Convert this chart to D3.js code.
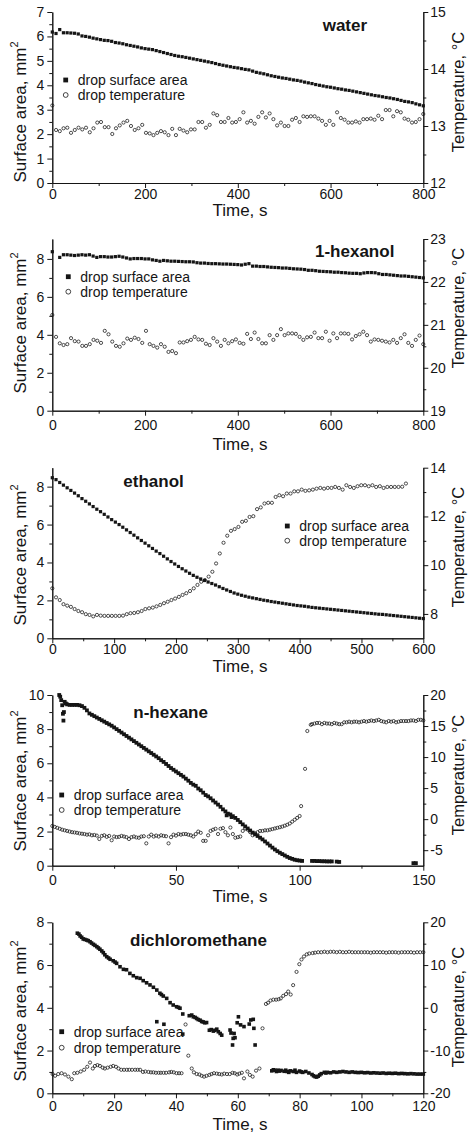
<!DOCTYPE html>
<html lang="en">
<head>
<meta charset="UTF-8">
<title>Drop surface area and temperature</title>
<script src="https://cdn.jsdelivr.net/npm/d3@7/dist/d3.min.js"></script>
<style>
  body { margin: 0; background: #fff; }
  svg { display: block; }
</style>
</head>
<body>
<svg id="chart" width="468" height="1137"></svg>
<script>
// ---------------------------------------------------------------------------
// Data. Area in mm^2, temperature in deg C, time in s.
// Evenly sampled series keep a sample step; the others are [time, value] pairs.
// ---------------------------------------------------------------------------

// water, area sampled every 8 s, temperature every 8.08 s
const waterArea = [6.18, 6.12, 6.28, 6.15, 6.15, 6.14, 6.13, 6.10, 6.02, 6.00,
  5.97, 5.93, 5.90, 5.87, 5.84, 5.83, 5.80, 5.75, 5.73, 5.70,
  5.66, 5.63, 5.60, 5.57, 5.53, 5.50, 5.48, 5.46, 5.42, 5.38,
  5.34, 5.30, 5.26, 5.22, 5.19, 5.17, 5.14, 5.11, 5.08, 5.05,
  5.02, 4.99, 4.96, 4.93, 4.89, 4.85, 4.82, 4.79, 4.76, 4.73,
  4.71, 4.68, 4.65, 4.63, 4.58, 4.53, 4.50, 4.47, 4.43, 4.39,
  4.36, 4.33, 4.30, 4.28, 4.25, 4.22, 4.20, 4.17, 4.13, 4.10,
  4.07, 4.03, 4.00, 3.97, 3.94, 3.92, 3.89, 3.86, 3.84, 3.81,
  3.79, 3.76, 3.73, 3.70, 3.67, 3.64, 3.61, 3.58, 3.56, 3.53,
  3.50, 3.48, 3.45, 3.42, 3.38, 3.34, 3.32, 3.29, 3.24, 3.20, 3.16];
const waterTemp = [13.36, 12.93, 12.91, 12.96, 12.97, 12.88, 12.93, 12.97, 12.94, 12.97,
  12.89, 12.96, 13.06, 13.07, 12.98, 12.98, 12.86, 12.96, 13.01, 13.06,
  13.09, 13.00, 12.93, 12.96, 13.02, 12.88, 12.87, 12.84, 12.88, 12.91,
  12.89, 12.84, 12.95, 12.84, 12.95, 12.92, 12.89, 12.94, 12.94, 13.07,
  13.07, 12.97, 13.02, 13.22, 13.19, 13.07, 13.07, 13.14, 13.06, 13.07,
  13.12, 13.24, 13.06, 13.09, 13.04, 13.16, 13.24, 13.15, 13.22, 13.12,
  13.01, 13.06, 13.00, 13.00, 13.11, 13.14, 13.07, 13.17, 13.16, 13.17,
  13.17, 13.13, 13.09, 13.02, 13.09, 13.02, 13.24, 13.14, 13.11, 13.06,
  13.06, 13.08, 13.06, 13.12, 13.12, 13.13, 13.11, 13.18, 13.12, 13.28,
  13.28, 13.17, 13.26, 13.24, 13.13, 13.11, 13.06, 13.07, 13.12, 13.21];

// 1-hexanol, area every 8 s (one missing sample), temperature every 8.08 s
const hexanolArea = [8.38, null, 8.08, 8.22, 8.22, 8.20, 8.18, 8.20, 8.22, 8.20,
  8.22, 8.15, 8.08, 8.12, 8.12, 8.10, 8.10, 8.12, 8.14, 8.10,
  8.05, 8.00, 8.02, 8.02, 8.02, 8.00, 8.00, 7.95, 7.92, 7.88,
  7.92, 7.90, 7.88, 7.88, 7.87, 7.86, 7.85, 7.85, 7.84, 7.80,
  7.78, 7.78, 7.76, 7.75, 7.75, 7.74, 7.73, 7.73, 7.72, 7.71,
  7.70, 7.68, 7.72, 7.75, 7.62, 7.62, 7.60, 7.60, 7.58, 7.56,
  7.55, 7.54, 7.52, 7.52, 7.50, 7.48, 7.47, 7.46, 7.44, 7.40,
  7.40, 7.38, 7.35, 7.34, 7.33, 7.32, 7.30, 7.30, 7.28, 7.27,
  7.25, 7.24, 7.24, 7.22, 7.26, 7.28, 7.28, 7.27, 7.22, 7.18,
  7.18, 7.16, 7.14, 7.12, 7.10, 7.10, 7.08, 7.06, 7.04, 7.02, 7.00];
const hexanolTemp = [21.23, 20.72, 20.57, 20.53, 20.55, 20.69, 20.62, 20.61, 20.51, 20.51,
  20.55, 20.65, 20.63, 20.58, 20.86, 20.78, 20.61, 20.51, 20.49, 20.57,
  20.68, 20.65, 20.70, 20.67, 20.58, 20.86, 20.55, 20.51, 20.47, 20.55,
  20.49, 20.37, 20.39, 20.34, 20.59, 20.59, 20.62, 20.65, 20.72, 20.66,
  20.65, 20.56, 20.53, 20.69, 20.61, 20.51, 20.65, 20.57, 20.62, 20.66,
  20.58, 20.56, 20.79, 20.67, 20.82, 20.67, 20.57, 20.57, 20.76, 20.65,
  20.76, 20.90, 20.76, 20.80, 20.80, 20.79, 20.72, 20.65, 20.71, 20.72,
  20.82, 20.69, 20.69, 20.84, 20.63, 20.80, 20.69, 20.80, 20.80, 20.79,
  20.66, 20.74, 20.78, 20.84, 20.76, 20.61, 20.66, 20.65, 20.63, 20.61,
  20.59, 20.65, 20.58, 20.69, 20.78, 20.58, 20.51, 20.65, 20.75, 20.55];

// ethanol, both sampled every 6 s
const ethanolArea = [8.47, 8.37, 8.22, 8.08, 7.94, 7.80, 7.66, 7.52, 7.37, 7.23,
  7.09, 6.95, 6.81, 6.68, 6.54, 6.40, 6.26, 6.13, 6.00, 5.86,
  5.72, 5.58, 5.44, 5.30, 5.16, 5.02, 4.88, 4.74, 4.60, 4.47,
  4.33, 4.19, 4.05, 3.92, 3.79, 3.67, 3.55, 3.43, 3.32, 3.22,
  3.13, 3.05, 2.97, 2.89, 2.81, 2.72, 2.63, 2.55, 2.47, 2.39,
  2.33, 2.27, 2.22, 2.17, 2.13, 2.09, 2.05, 2.01, 1.98, 1.94,
  1.91, 1.88, 1.85, 1.82, 1.79, 1.76, 1.73, 1.71, 1.69, 1.66,
  1.63, 1.61, 1.59, 1.57, 1.55, 1.53, 1.51, 1.49, 1.47, 1.45,
  1.43, 1.41, 1.39, 1.37, 1.35, 1.33, 1.31, 1.29, 1.27, 1.26,
  1.24, 1.22, 1.20, 1.18, 1.16, 1.14, 1.12, 1.10, 1.08, 1.06, 1.04];
const ethanolTemp = [9.05, 8.68, 8.57, 8.40, 8.34, 8.29, 8.20, 8.12, 8.07, 7.99,
  7.96, 7.90, 7.96, 7.93, 7.92, 7.92, 7.92, 7.92, 7.92, 7.93,
  7.99, 8.03, 8.04, 8.07, 8.12, 8.20, 8.23, 8.26, 8.31, 8.37,
  8.44, 8.50, 8.57, 8.63, 8.70, 8.78, 8.85, 8.94, 9.05, 9.19,
  9.32, 9.39, 9.53, 9.73, 10.07, 10.48, 10.92, 11.21, 11.41, 11.48,
  11.57, 11.78, 11.82, 11.98, 12.01, 12.30, 12.37, 12.53, 12.56, 12.56,
  12.80, 12.87, 12.83, 12.94, 12.94, 13.03, 13.03, 13.10, 13.05, 13.07,
  13.10, 13.14, 13.17, 13.14, 13.17, 13.17, 13.21, 13.17, 13.10, 13.28,
  13.21, 13.17, 13.24, 13.28, 13.28, 13.24, 13.28, 13.21, 13.24, 13.17,
  13.21, 13.21, 13.21, 13.21, 13.22, 13.35];

// n-hexane, [time, value]
const hexaneArea = [[2.8, 10.0], [3.2, 9.9], [3.6, 9.7], [4.0, 9.4], [4.3, 8.9], [4.5, 8.5], [4.7, 9.0], [5.0, 9.6],
  [5.5, 9.5], [6, 9.45], [7, 9.42], [8, 9.42], [9, 9.42], [10, 9.42], [11, 9.40], [12, 9.35], [13, 9.25], [14, 9.10],
  [15, 8.92], [16, 8.84], [17, 8.76], [18, 8.68], [19, 8.60], [20, 8.52], [21, 8.44], [22, 8.36], [23, 8.28], [24, 8.20],
  [25, 8.10], [26, 8.00], [27, 7.90], [28, 7.80], [29, 7.70], [30, 7.60], [31, 7.50], [32, 7.40], [33, 7.30], [34, 7.20],
  [35, 7.10], [36, 7.00], [37, 6.90], [38, 6.80], [39, 6.70], [40, 6.60], [41, 6.50], [42, 6.40], [43, 6.30], [44, 6.18],
  [45, 6.08], [46, 5.96], [47, 5.84], [48, 5.72], [49, 5.62], [50, 5.52], [51, 5.42], [52, 5.32], [53, 5.22], [54, 5.10],
  [55, 4.98], [56, 4.85], [57, 4.75], [58, 4.68], [59, 4.52], [60, 4.42], [61, 4.28], [62, 4.14], [63, 4.06], [64, 3.95],
  [65, 3.82], [66, 3.70], [67, 3.58], [68, 3.45], [69, 3.30], [70, 3.18], [70.5, 2.95], [71, 3.05], [72, 3.00], [72.5, 2.85],
  [73, 2.90], [74, 2.80], [75, 2.68], [76, 2.55], [77, 2.42], [78, 2.30], [79, 2.18], [80, 2.06], [81, 1.94], [82, 1.84],
  [83, 1.74], [84, 1.64], [85, 1.54], [86, 1.42], [87, 1.30], [88, 1.18], [89, 1.06], [90, 0.95], [91, 0.85], [92, 0.76],
  [93, 0.68], [94, 0.60], [95, 0.52], [96, 0.45], [97, 0.40], [98, 0.35], [99, 0.32], [100, 0.30], [101, 0.28],
  [105, 0.28], [106, 0.28], [107, 0.27], [108, 0.27], [109, 0.26], [110, 0.26], [111, 0.25], [112, 0.25], [113, 0.25],
  [115, 0.24], [116, 0.22], [146, 0.15], [147, 0.15]];
const hexaneTemp = [[0, -1.1], [1, -1.25], [2, -1.4], [3, -1.55], [4, -1.7], [5, -1.8], [6, -1.9], [7, -2.0], [8, -2.1],
  [9, -2.15], [10, -2.2], [11, -2.3], [12, -2.35], [13, -2.4], [14, -2.5], [15, -2.45], [16, -2.6], [17, -2.55], [18, -2.65],
  [19, -3.2], [20, -2.7], [21, -2.6], [22, -2.85], [23, -2.7], [24, -3.4], [25, -2.8], [26, -2.9], [27, -2.85], [28, -2.7],
  [29, -2.8], [30, -2.9], [31, -3.2], [32, -2.9], [33, -2.8], [34, -2.95], [35, -3.0], [36, -2.8], [37, -2.75], [38, -3.9],
  [39, -2.8], [40, -2.5], [41, -2.8], [42, -2.65], [43, -2.8], [44, -2.6], [45, -2.7], [46, -2.75], [47, -3.9], [48, -2.9],
  [49, -2.5], [50, -2.65], [51, -2.4], [52, -2.5], [53, -2.4], [54, -2.4], [55, -2.5], [56, -2.6], [57, -2.8], [58, -2.4],
  [59, -2.0], [60, -2.2], [61, -3.5], [62, -3.5], [63, -2.6], [64, -1.9], [65, -1.7], [66, -1.55], [67, -2.4], [68, -1.55],
  [69, -1.45], [70, -2.1], [71, -2.6], [72, -1.35], [73, -2.4], [74, -3.0], [75, -2.9], [76, -2.8], [77, -1.9], [78, -1.5],
  [79, -1.7], [80, -2.1], [81, -2.6], [82, -2.3], [83, -2.1], [84, -1.9], [85, -1.9], [86, -1.8], [87, -1.8], [88, -1.7],
  [89, -1.6], [90, -1.5], [91, -1.4], [92, -1.3], [93, -1.2], [94, -1.05], [95, -0.9], [96, -0.7], [97, -0.4], [98, -0.1],
  [99, 0.2], [100, 0.5], [100.6, 2.1], [102.2, 8.1], [103.1, 14.2], [104.5, 15.2],
  [105, 15.3], [106, 15.4], [107, 15.5], [108, 15.5], [109, 15.3], [110, 15.5], [111, 15.4], [112, 15.4], [113, 15.3],
  [114, 15.5], [115, 15.4], [116, 15.3], [117, 15.3], [118, 15.6], [119, 15.6], [120, 15.7], [121, 15.6], [122, 15.7],
  [123, 15.7], [124, 15.6], [125, 15.7], [126, 15.8], [127, 15.7], [128, 15.8], [129, 15.9], [130, 15.8], [131, 15.9],
  [132, 16.0], [133, 15.8], [134, 15.7], [135, 15.6], [136, 15.8], [137, 15.7], [138, 15.8], [139, 15.6], [140, 15.7],
  [141, 15.8], [142, 15.8], [143, 15.8], [144, 15.8], [145, 15.9], [146, 15.9], [147, 15.8], [148, 16.0], [149, 16.0],
  [150, 15.9]];

// dichloromethane, [time, value]
const dcmArea = [[8.1, 7.49], [8.6, 7.45], [9.0, 7.36], [9.5, 7.30], [10.0, 7.22], [10.5, 7.20], [11.1, 7.17], [11.6, 7.14],
  [12.2, 7.09], [12.7, 7.03], [13.3, 6.97], [13.8, 6.92], [14.4, 6.86], [14.9, 6.80], [15.4, 6.74], [16.0, 6.66],
  [16.5, 6.58], [17.0, 6.48], [17.6, 6.39], [18.2, 6.33], [18.7, 6.27], [19.7, 6.20], [20.3, 6.14], [20.8, 6.08],
  [21.9, 5.92], [23.0, 5.80], [24.0, 5.78], [25.1, 5.61], [26.2, 5.50], [27.3, 5.41], [28.4, 5.38], [29.4, 5.27],
  [30.5, 5.17], [31.6, 5.07], [32.7, 4.96], [33.8, 4.83], [34.8, 4.68], [35.3, 4.62], [35.9, 4.55], [37.0, 4.44],
  [38.1, 4.24], [39.1, 4.13], [40.2, 4.05], [40.8, 4.02], [41.3, 3.98], [42.2, 3.71],
  [33.8, 3.35], [36.1, 3.23], [42.2, 2.77],
  [44.3, 3.63], [45.1, 3.66], [45.6, 3.58], [46.2, 3.55], [46.7, 3.50], [47.2, 3.45], [47.8, 3.42], [48.3, 3.36],
  [48.8, 3.34], [49.3, 3.30], [49.9, 3.31], [50.8, 2.95], [51.4, 2.98], [52.1, 2.91], [52.6, 2.95], [53.2, 3.00],
  [53.7, 2.88], [54.3, 2.80], [54.8, 2.72],
  [57.5, 2.96], [57.8, 2.82], [58.3, 2.26], [58.5, 2.57], [58.8, 2.80], [59.1, 2.60], [59.8, 3.30], [60.2, 3.58],
  [60.9, 3.20], [62.0, 3.12], [63.7, 3.24], [64.2, 3.43], [65.0, 3.46], [65.2, 3.04], [65.6, 2.26],
  [71.0, 1.05], [71.5, 1.10], [72, 1.08], [72.5, 1.02], [73, 1.08], [73.5, 1.04], [74, 1.07], [75, 1.03], [75.5, 1.08],
  [76, 1.02], [76.5, 0.98], [77, 1.05], [78, 1.02], [78.5, 1.08], [79, 0.98], [80, 1.04], [80.5, 1.00], [81, 0.98],
  [82, 1.02], [83, 0.95], [84, 0.88], [84.5, 0.82], [85, 0.78], [85.5, 0.76], [86, 0.80], [86.5, 0.86], [87, 0.92],
  [88, 0.98], [88.5, 0.95], [89, 0.98], [90, 0.96], [91, 1.00], [92, 0.98], [93, 1.00], [94, 1.02], [95, 1.00],
  [96, 0.98], [97, 1.00], [98, 0.98], [99, 0.97], [100, 0.98], [101, 0.96], [102, 0.97], [103, 0.95], [104, 0.96],
  [105, 0.95], [106, 0.94], [107, 0.95], [108, 0.93], [109, 0.94], [110, 0.93], [111, 0.94], [112, 0.92], [113, 0.93],
  [114, 0.92], [115, 0.91], [116, 0.92], [117, 0.91], [118, 0.90], [119, 0.90], [120, 0.90]];
const dcmTemp = [[0.1, -15.5], [0.9, -15.9], [1.9, -15.5], [3.0, -15.3], [4.1, -15.6], [5.2, -16.1], [6.3, -16.7],
  [7.1, -15.3], [8.1, -15.2], [9.2, -14.9], [10.3, -14.5], [11.3, -13.8], [12.2, -12.8], [13.1, -14.2], [13.8, -13.6],
  [14.6, -13.4], [15.4, -13.6], [16.3, -14.0], [17.0, -14.2], [17.9, -14.0], [18.9, -13.8], [19.7, -13.6], [20.6, -13.8],
  [21.4, -14.2], [22.3, -14.5], [23.2, -14.5], [24.1, -14.5], [24.9, -14.5], [25.8, -14.5], [26.8, -14.5], [27.6, -14.5],
  [28.4, -14.5], [29.3, -15.0], [30.1, -14.9], [31.1, -15.0], [31.9, -15.1], [32.7, -15.1], [33.5, -15.2], [34.4, -15.2],
  [35.1, -15.2], [36.0, -15.2], [36.8, -15.2], [37.8, -15.1], [38.5, -15.0], [39.3, -15.1], [40.2, -15.3], [41.0, -15.3],
  [41.8, -15.3], [43.1, -3.9], [44.0, -11.2], [45.1, -14.2], [45.8, -15.1], [46.7, -15.5], [47.6, -15.6], [48.3, -15.9],
  [49.1, -16.1], [49.9, -15.9], [50.8, -15.7], [51.5, -15.5], [52.3, -15.3], [53.2, -15.4], [54.0, -15.5], [54.8, -15.6],
  [55.6, -15.4], [56.5, -15.5], [57.4, -15.5], [58.3, -15.2], [59.0, -15.3], [59.8, -15.6], [60.5, -15.4], [61.3, -15.2],
  [62.0, -16.5], [63.1, -14.9], [63.9, -15.7], [64.8, -16.1], [65.9, -14.7], [67.0, -14.2], [68.0, -4.8],
  [69.1, 0.9], [69.8, 1.2], [70.6, 1.7], [71.5, 1.9], [72.4, 1.9], [73.2, 2.0], [73.9, 2.2], [74.7, 2.8], [75.6, 3.2],
  [76.3, 3.8], [77.1, 3.1], [77.9, 5.3], [79.0, 8.4], [79.9, 10.2], [80.6, 11.3], [81.4, 12.0], [82.3, 12.5], [83.1, 12.7],
  [84.2, 12.8], [85.0, 12.9], [86, 13.0], [87, 13.0], [88, 13.1], [89, 13.0], [90, 13.1], [91, 13.1], [92, 13.0],
  [93, 13.1], [94, 13.0], [95, 13.0], [96, 13.1], [97, 13.0], [98, 13.0], [99, 13.0], [100, 13.0], [101, 13.0],
  [102, 13.0], [103, 12.9], [104, 13.0], [105, 13.0], [106, 13.0], [107, 13.0], [108, 12.9], [109, 13.0], [110, 13.0],
  [111, 13.0], [112, 12.9], [113, 13.0], [114, 13.0], [115, 13.0], [116, 13.0], [117, 12.9], [118, 13.0], [119, 13.0],
  [120, 13.0]];

// axis tick labels
const waterTimeTicks = [0, 200, 400, 600, 800];
const waterAreaTicks = [0, 1, 2, 3, 4, 5, 6, 7];
const waterTempTicks = [12, 13, 14, 15];
const hexanolTimeTicks = [0, 200, 400, 600, 800];
const hexanolAreaTicks = [0, 2, 4, 6, 8];
const hexanolTempTicks = [19, 20, 21, 22, 23];
const ethanolTimeTicks = [0, 100, 200, 300, 400, 500, 600];
const ethanolAreaTicks = [0, 2, 4, 6, 8];
const ethanolTempTicks = [8, 10, 12, 14];
const hexaneTimeTicks = [0, 50, 100, 150];
const hexaneAreaTicks = [0, 2, 4, 6, 8, 10];
const hexaneTempTicks = [-5, 0, 5, 10, 15, 20];
const dcmTimeTicks = [0, 20, 40, 60, 80, 100, 120];
const dcmAreaTicks = [0, 2, 4, 6, 8];
const dcmTempTicks = [-20, -10, 0, 10, 20];

// ---------------------------------------------------------------------------
// Layout
// ---------------------------------------------------------------------------
const FONT = '"Liberation Sans", Arial, Helvetica, sans-serif';
const INK = '#151515';
const X0 = 52.3, X1 = 423.3;

const even = (values, dt) => values.map((v, i) => [i * dt, v]).filter(d => d[1] != null);

const panels = [
  { title: 'water', titleX: 322.7, titleY: 31, top: 12, bottom: 183,
    xDomain: [0, 800], xTicks: waterTimeTicks,
    leftDomain: [0, 7], leftTicks: waterAreaTicks, rightDomain: [12, 15], rightTicks: waterTempTicks,
    area: even(waterArea, 8), temp: even(waterTemp, 8.08), sq: 3.2,
    legend: [65.7, 80, 15], leftLabelY: 112, rightLabelY: 92, xPad: 1, xTitleGap: 32.5 },
  { title: '1-hexanol', titleX: 315, titleY: 256.7, top: 239, bottom: 410.7,
    xDomain: [0, 800], xTicks: hexanolTimeTicks,
    leftDomain: [0, 9.05], leftTicks: hexanolAreaTicks, rightDomain: [19, 23], rightTicks: hexanolTempTicks,
    area: even(hexanolArea, 8), temp: even(hexanolTemp, 8.08), sq: 3.2,
    legend: [68.3, 276.7, 15], leftLabelY: 323, rightLabelY: 308, xPad: 4, xTitleGap: 39 },
  { title: 'ethanol', titleX: 123.3, titleY: 486.7, top: 467.7, bottom: 638.3,
    xDomain: [0, 600], xTicks: ethanolTimeTicks,
    leftDomain: [0, 9], leftTicks: ethanolAreaTicks, rightDomain: [7, 14], rightTicks: ethanolTempTicks,
    area: even(ethanolArea, 6), temp: even(ethanolTemp, 6.02), sq: 3.2,
    legend: [287.3, 526, 14.7], leftLabelY: 555, rightLabelY: 547, xPad: 1, xTitleGap: 33.5 },
  { title: 'n-hexane', titleX: 133.3, titleY: 718.3, top: 695, bottom: 865.7,
    xDomain: [0, 150], xTicks: hexaneTimeTicks,
    leftDomain: [0, 10], leftTicks: hexaneAreaTicks, rightDomain: [-7.5, 20], rightTicks: hexaneTempTicks,
    area: hexaneArea, temp: hexaneTemp, sq: 3.8,
    legend: [61.7, 795, 15], leftLabelY: 781, rightLabelY: 775, xPad: 4, xTitleGap: 36 },
  { title: 'dichloromethane', titleX: 130, titleY: 945.7, top: 922.3, bottom: 1093.3,
    xDomain: [0, 120], xTicks: dcmTimeTicks,
    leftDomain: [0, 8], leftTicks: dcmAreaTicks, rightDomain: [-20, 20], rightTicks: dcmTempTicks,
    area: dcmArea, temp: dcmTemp, sq: 3.6,
    legend: [61.7, 1031.7, 16], leftLabelY: 1011, rightLabelY: 1007, xPad: 3, xTitleGap: 37 }
];

const svg = d3.select('#chart');
svg.append('rect').attr('width', 468).attr('height', 1137).attr('fill', '#fff');

// midpoints between neighbouring major ticks -> unlabeled minor ticks
const mids = t => t.slice(1).map((v, i) => (v + t[i]) / 2);

function styleAxis(sel) {
  sel.attr('font-family', FONT).attr('font-size', 14);
  sel.selectAll('path, line').attr('stroke', INK).attr('stroke-width', 1);
  sel.selectAll('text').attr('fill', INK);
}

function drawPanel(p) {
  const g = svg.append('g');
  const x = d3.scaleLinear().domain(p.xDomain).range([X0, X1]);
  const yL = d3.scaleLinear().domain(p.leftDomain).range([p.bottom, p.top]);
  const yR = d3.scaleLinear().domain(p.rightDomain).range([p.bottom, p.top]);
  const fmt = d => String(d);

  // minor ticks first, majors (with domain lines) on top
  g.append('g').attr('transform', `translate(0,${p.bottom})`)
    .call(d3.axisBottom(x).tickValues(mids(p.xTicks)).tickSize(3).tickSizeOuter(0).tickFormat(''))
    .call(styleAxis);
  g.append('g').attr('transform', `translate(${X0},0)`)
    .call(d3.axisLeft(yL).tickValues(mids(p.leftTicks)).tickSize(3).tickSizeOuter(0).tickFormat(''))
    .call(styleAxis);
  g.append('g').attr('transform', `translate(${X1},0)`)
    .call(d3.axisRight(yR).tickValues(mids(p.rightTicks)).tickSize(3).tickSizeOuter(0).tickFormat(''))
    .call(styleAxis);

  g.append('g').attr('transform', `translate(0,${p.bottom})`)
    .call(d3.axisBottom(x).tickValues(p.xTicks).tickSize(5).tickSizeOuter(0).tickPadding(p.xPad).tickFormat(fmt))
    .call(styleAxis);
  g.append('g').attr('transform', `translate(${X0},0)`)
    .call(d3.axisLeft(yL).tickValues(p.leftTicks).tickSize(5).tickSizeOuter(0).tickPadding(3).tickFormat(fmt))
    .call(styleAxis);
  g.append('g').attr('transform', `translate(${X1},0)`)
    .call(d3.axisRight(yR).tickValues(p.rightTicks).tickSize(5).tickSizeOuter(0).tickPadding(2).tickFormat(fmt))
    .call(styleAxis);

  // temperature (open circles) and surface area (filled squares)
  g.append('g').selectAll('circle').data(p.temp).join('circle')
    .attr('cx', d => x(d[0])).attr('cy', d => yR(d[1])).attr('r', 1.6)
    .attr('fill', 'none').attr('stroke', INK).attr('stroke-width', 0.75);
  g.append('g').selectAll('rect').data(p.area).join('rect')
    .attr('x', d => x(d[0]) - p.sq / 2).attr('y', d => yL(d[1]) - p.sq / 2)
    .attr('width', p.sq).attr('height', p.sq).attr('fill', INK);

  // legend
  const [lx, ly, gap] = p.legend;
  const leg = g.append('g').attr('font-family', FONT).attr('font-size', 14).attr('fill', INK);
  leg.append('rect').attr('x', lx - 2.4).attr('y', ly - 2.4).attr('width', 4.8).attr('height', 4.8).attr('fill', INK);
  leg.append('circle').attr('cx', lx).attr('cy', ly + gap).attr('r', 2.4)
    .attr('fill', 'none').attr('stroke', INK).attr('stroke-width', 0.8);
  leg.append('text').attr('x', lx + 12).attr('y', ly + 5).text('drop surface area');
  leg.append('text').attr('x', lx + 12).attr('y', ly + gap + 5).text('drop temperature');

  // panel title
  g.append('text').attr('x', p.titleX).attr('y', p.titleY)
    .attr('font-family', FONT).attr('font-size', 17).attr('font-weight', 'bold').attr('fill', INK)
    .text(p.title);

  // axis titles
  g.append('text').attr('x', 240).attr('y', p.bottom + p.xTitleGap)
    .attr('text-anchor', 'middle').attr('font-family', FONT).attr('font-size', 17).attr('fill', INK)
    .text('Time, s');

  const yt = g.append('text')
    .attr('transform', `translate(26,${p.leftLabelY}) rotate(-90)`)
    .attr('text-anchor', 'middle').attr('font-family', FONT).attr('font-size', 17).attr('fill', INK);
  yt.append('tspan').text('Surface area, mm');
  yt.append('tspan').attr('font-size', 11).attr('dy', -8).text('2');

  g.append('text')
    .attr('transform', `translate(464,${p.rightLabelY}) rotate(-90)`)
    .attr('text-anchor', 'middle').attr('font-family', FONT).attr('font-size', 16.5).attr('fill', INK)
    .text('Temperature, \u00B0C');
}

panels.forEach(drawPanel);
</script>
</body>
</html>
